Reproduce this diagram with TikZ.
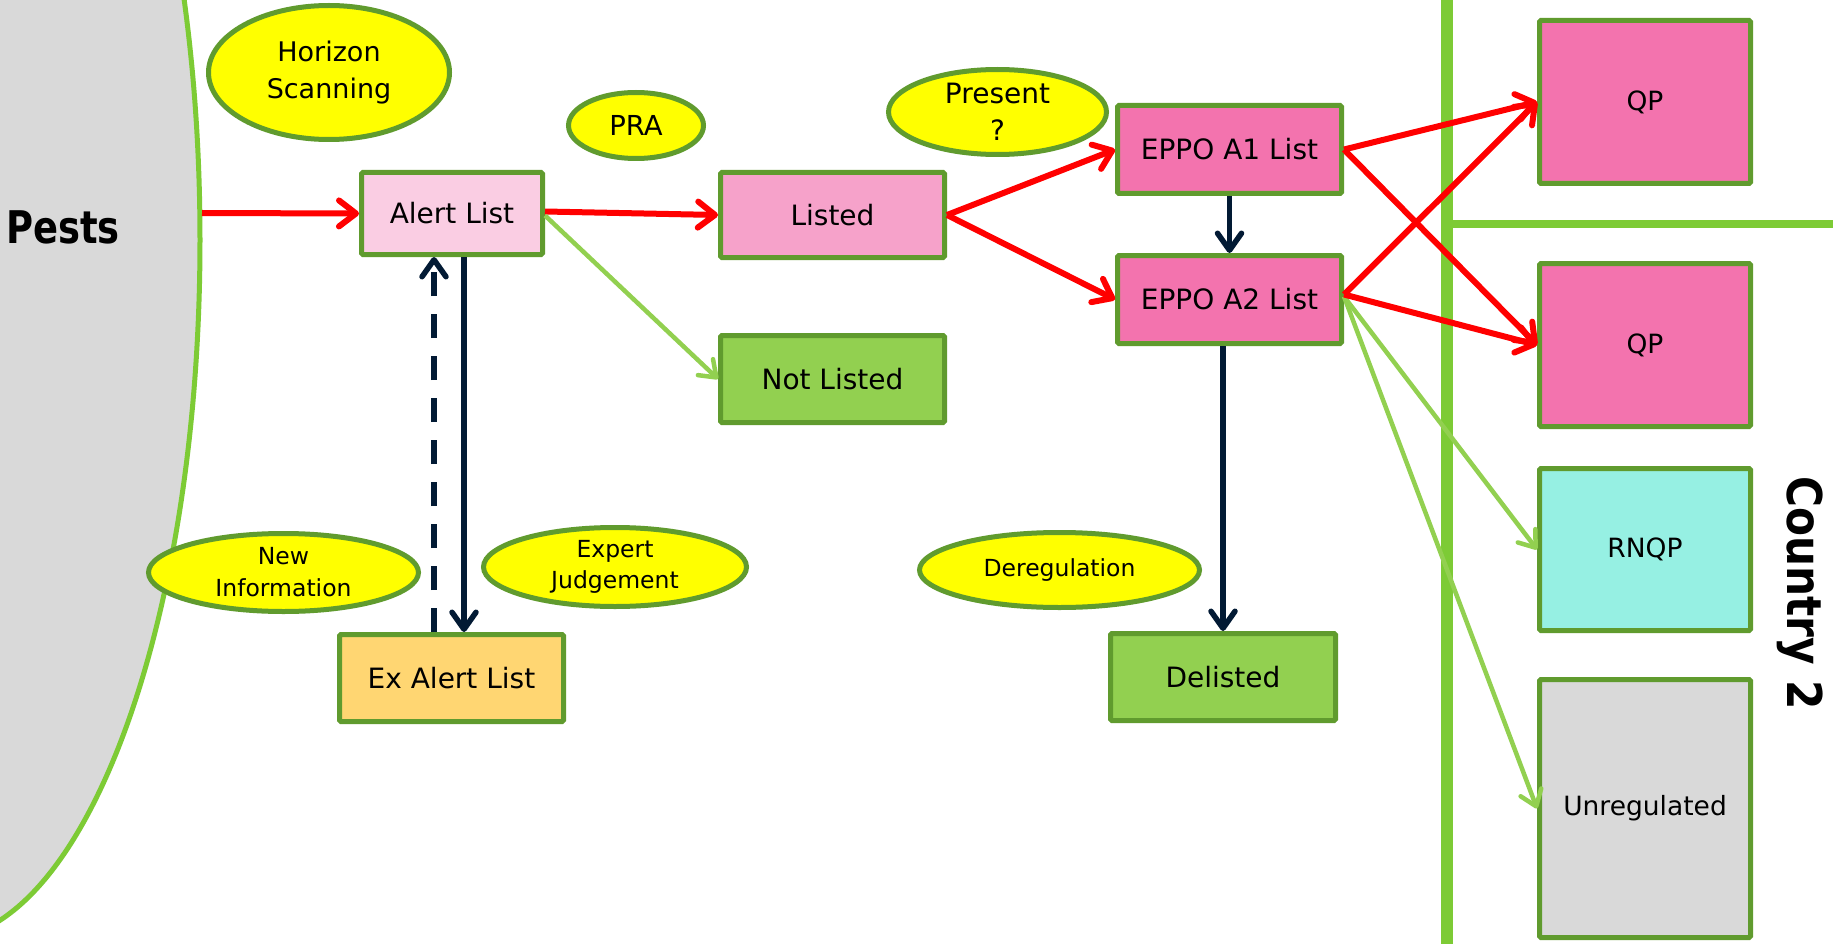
\documentclass[tikz,border=0pt]{standalone}
\usepackage{fontspec}
\setmainfont{DejaVu Sans}
\usetikzlibrary{shapes.geometric,arrows.meta,calc}
\definecolor{pestgray}{HTML}{D9D9D9}
\definecolor{divgreen}{HTML}{7DCB35}
\definecolor{nodegreen}{HTML}{609B2E}
\definecolor{lgreen}{HTML}{92D050}
\definecolor{bubyellow}{HTML}{FFFF00}
\definecolor{pinklight}{HTML}{FACDE3}
\definecolor{pinkmid}{HTML}{F6A2CA}
\definecolor{pinkhot}{HTML}{F373AE}
\definecolor{exorange}{HTML}{FFD672}
\definecolor{rnqpcyan}{HTML}{96F0E3}
\definecolor{navy}{HTML}{021A34}
\definecolor{redarr}{HTML}{FF0000}
\tikzset{
  box/.style={draw=nodegreen, line width=5pt, rectangle, rounded corners=1.5pt, inner sep=0pt,
    font=\fontsize{28}{34}\selectfont, text=black, align=center},
  rbox/.style={box, font=\fontsize{26.5}{32}\selectfont},
  bub/.style={ellipse, draw=nodegreen, fill=bubyellow, line width=5pt, inner sep=0pt, align=center, text=black},
  redline/.style={draw=redarr, line width=6pt, -{Straight Barb[length=17pt,width=26pt,round]}},
  greenline/.style={draw=lgreen, line width=4.5pt, -{Straight Barb[length=15pt,width=22pt,round]}},
  navyline/.style={draw=navy, line width=5.5pt, -{Straight Barb[length=17pt,width=24pt,round]}},
}
\begin{document}
\begin{tikzpicture}[x=1pt,y=-1pt]
\useasboundingbox (0,0) rectangle (1833,944);
\fill[white] (0,0) rectangle (1833,944);
% Pests region
\begin{scope}
  \clip (0,0) rectangle (1833,944);
  \draw[fill=pestgray, draw=divgreen, line width=5pt] (-62,240) ellipse [x radius=262pt, y radius=700pt];
\end{scope}
\node[anchor=base, text=black, inner sep=0pt] (pests) at (63,243)
  {\scalebox{0.82}[1]{\fontsize{45}{50}\selectfont\bfseries Pests}};
\coordinate (pestedge) at (202,213);
% dividers
\draw[divgreen, line width=12pt] (1447,0) -- (1447,944);
\draw[divgreen, line width=8pt] (1447,224) -- (1833,224);
\node[anchor=base, rotate=-90, text=black, inner sep=0pt] (country) at (1787,593)
  {\scalebox{0.88}[1]{\fontsize{48}{52}\selectfont\bfseries Country 2}};
% ellipses
\node[bub, minimum width=241pt, minimum height=134pt, font=\fontsize{27}{37}\selectfont] (horizon) at (329,72.5) {Horizon\\Scanning};
\node[bub, minimum width=135pt, minimum height=66pt, font=\fontsize{27.5}{34}\selectfont] (pra) at (636,125.5) {PRA};
\node[bub, minimum width=218pt, minimum height=85pt, font=\fontsize{28}{37}\selectfont] (present) at (997.5,112) {Present\\?};
\node[bub, minimum width=270pt, minimum height=78pt, font=\fontsize{23.5}{32}\selectfont] (newinfo) at (283.5,572.5) {New\\Information};
\node[bub, minimum width=263pt, minimum height=79pt, font=\fontsize{23.5}{31}\selectfont] (expert) at (615,567) {Expert\\Judgement};
\node[bub, minimum width=280pt, minimum height=75pt, font=\fontsize{23.5}{30}\selectfont] (dereg) at (1059.5,570) {Deregulation};
% boxes
\node[box, fill=pinklight, minimum width=181pt, minimum height=82pt] (alert) at (452,213.5) {Alert List};
\node[box, fill=pinkmid, minimum width=224pt, minimum height=85pt] (listed) at (832.5,215) {Listed};
\node[box, fill=lgreen, minimum width=224pt, minimum height=87pt] (notlisted) at (832.5,379) {Not Listed};
\node[box, fill=exorange, minimum width=224pt, minimum height=87pt] (exalert) at (451.5,678) {Ex Alert List};
\node[box, fill=pinkhot, minimum width=224pt, minimum height=88pt] (a1) at (1229.5,149.5) {EPPO A1 List};
\node[box, fill=pinkhot, minimum width=224pt, minimum height=88pt] (a2) at (1229.5,299.5) {EPPO A2 List};
\node[box, fill=lgreen, minimum width=225pt, minimum height=87pt] (delisted) at (1223,677) {Delisted};
\node[rbox, fill=pinkhot, minimum width=211pt, minimum height=163pt] (qp1) at (1645,102) {QP};
\node[rbox, fill=pinkhot, minimum width=211pt, minimum height=163pt] (qp2) at (1645,345) {QP};
\node[rbox, fill=rnqpcyan, minimum width=211pt, minimum height=162pt] (rnqp) at (1645,549.5) {RNQP};
\node[rbox, fill=pestgray, minimum width=211pt, minimum height=258pt] (unreg) at (1645,808.5) {Unregulated};
% connectors
\draw[redline] (pestedge) -- (alert.west);
\draw[redline] ([yshift=2pt]alert.east) -- (listed.west);
\draw[greenline] ([yshift=-2pt]alert.east) -- (notlisted.west);
\draw[navyline] ([xshift=12pt]alert.south) -- ([xshift=12.5pt]exalert.north);
\draw[navyline, dash pattern=on 24pt off 18pt] ([xshift=-17.5pt]exalert.north) -- ([xshift=-18pt]alert.south);
\draw[redline] (listed.east) -- (a1.west);
\draw[redline] (listed.east) -- (a2.west);
\draw[navyline] (a1.south) -- (a2.north);
\draw[navyline] ([xshift=-6.5pt]a2.south) -- (delisted.north);
\draw[greenline] ([yshift=3pt]a2.east) -- (rnqp.west);
\draw[greenline] ([yshift=3pt]a2.east) -- (unreg.west);
\draw[redline] (a1.east) -- (qp1.west);
\draw[redline] (a1.east) -- (qp2.west);
\draw[redline] ([yshift=5pt]a2.east) -- (qp1.west);
\draw[redline] ([yshift=5pt]a2.east) -- (qp2.west);
\end{tikzpicture}
\end{document}
